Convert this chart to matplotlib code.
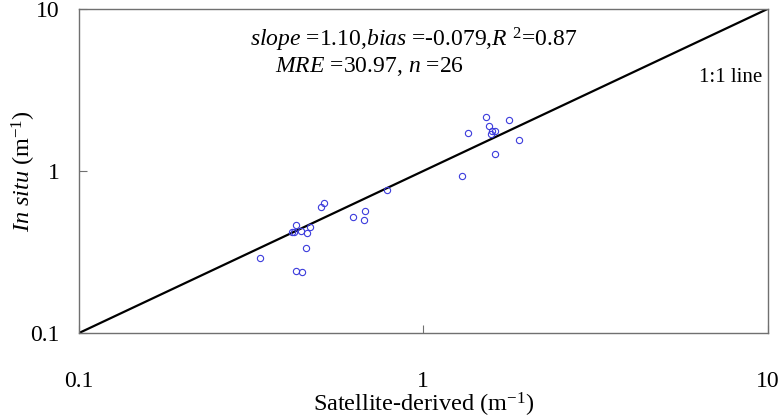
import matplotlib
matplotlib.use("Agg")
import matplotlib.pyplot as plt

plt.rcParams['font.family'] = ['Liberation Serif', 'DejaVu Serif']
plt.rcParams['mathtext.fontset'] = 'custom'
plt.rcParams['mathtext.rm'] = 'Liberation Serif'
plt.rcParams['mathtext.it'] = 'Liberation Serif:italic'

# satellite-derived vs in situ values (m^-1)
satellite = [0.336, 0.428, 0.443, 0.455, 0.426, 0.416, 0.422, 0.440, 0.459, 0.470,
             0.505, 0.516, 0.625, 0.675, 0.672, 0.782, 1.30, 1.351, 1.524, 1.550,
             1.568, 1.587, 1.617, 1.772, 1.895, 1.616]
in_situ = [0.292, 0.2415, 0.239, 0.336, 0.464, 0.418, 0.423, 0.426, 0.412, 0.453,
           0.597, 0.632, 0.520, 0.569, 0.498, 0.764, 0.925, 1.717, 2.164, 1.896,
           1.680, 1.758, 1.766, 2.064, 1.554, 1.282]
one_to_one = [0.1, 10]

fig = plt.figure(figsize=(7.8, 4.18), dpi=100)
ax = fig.add_axes([0.1013, 0.2033, 0.8827, 0.7752])

ax.plot(one_to_one, one_to_one, color='black', lw=1.6)
ax.plot(satellite, in_situ, 'o', mfc='none', mec='#3c3cdc', ms=4.5, mew=0.8)

ax.set_xscale('log')
ax.set_yscale('log')
ax.set_xlim(0.1, 10)
ax.set_ylim(0.1, 10)
ax.minorticks_off()
ax.set_xticks([0.1, 1, 10])
ax.set_xticklabels(['0.1', '1', '10'])
ax.set_yticks([0.1, 1, 10])
ax.set_yticklabels(['0.1', '1', '10'])
ax.tick_params(direction='in', length=6, width=0.8, color='#707070',
               labelsize=17)
ax.tick_params(axis='x', pad=27)
ax.tick_params(axis='y', pad=14)
for s in ax.spines.values():
    s.set_color('#707070')
    s.set_linewidth(1)

xl = ax.set_xlabel(r'Satellite-derived (m$^{-1}$)', fontsize=17.5, va='center')
ax.xaxis.set_label_coords(0.5, -0.222)
yl = ax.set_ylabel(r'$\mathit{In\ situ}$ (m$^{-1}$)', fontsize=17.5, va='center')
ax.yaxis.set_label_coords(-0.08, 0.5)

ax.text(0.248, 0.905,
        r'$\mathit{slope}$ =1.10,$\mathit{bias}$ =-0.079,$\mathit{R}$ $^{2}$=0.87',
        transform=ax.transAxes, ha='left', va='center', fontsize=17)
ax.text(0.285, 0.822,
        r'$\mathit{MRE}$ =30.97, $\mathit{n}$ =26',
        transform=ax.transAxes, ha='left', va='center', fontsize=17)
ax.text(0.992, 0.79, '1:1 line', transform=ax.transAxes,
        ha='right', va='center', fontsize=15)

fig.savefig('out.png', dpi=100)
